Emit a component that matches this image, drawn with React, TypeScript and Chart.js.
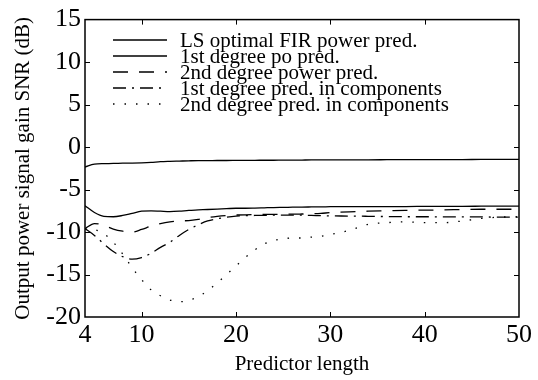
import React, { useEffect, useRef } from "react";
import { Chart, registerables } from "chart.js";

Chart.register(...registerables);

// Predictor length (x)
const xValues = [4, 5, 6, 7, 8, 9, 10, 11, 12, 13, 14, 15, 16, 17, 18, 19, 20, 21, 22, 23, 24, 25, 26, 27, 28, 29, 30, 32, 34, 36, 38, 40, 42, 44, 46, 48, 50];

// Output power signal gain SNR (dB)
const lsOptimal = [-2.35, -2.0, -1.95, -1.93, -1.9, -1.88, -1.85, -1.8, -1.72, -1.68, -1.65, -1.62, -1.6, -1.6, -1.58, -1.58, -1.57, -1.56, -1.56, -1.55, -1.55, -1.54, -1.54, -1.53, -1.52, -1.52, -1.51, -1.5, -1.5, -1.49, -1.48, -1.48, -1.47, -1.47, -1.46, -1.46, -1.46];
const firstDegreePo = [-6.9, -7.7, -8.15, -8.2, -8.05, -7.8, -7.55, -7.5, -7.55, -7.6, -7.55, -7.45, -7.4, -7.35, -7.3, -7.25, -7.2, -7.2, -7.18, -7.15, -7.12, -7.1, -7.08, -7.06, -7.05, -7.04, -7.02, -7.0, -7.0, -7.0, -7.0, -6.98, -6.97, -6.97, -6.96, -6.95, -6.95];
const secondDegreePower = [-9.6, -9.0, -9.2, -9.65, -9.9, -10.0, -9.7, -9.3, -9.0, -8.8, -8.7, -8.65, -8.5, -8.3, -8.15, -8.05, -8.0, -7.97, -7.95, -7.93, -7.92, -7.9, -7.9, -7.88, -7.85, -7.8, -7.72, -7.62, -7.55, -7.5, -7.45, -7.42, -7.4, -7.35, -7.32, -7.32, -7.32];
const firstDegreeComp = [-9.6, -10.4, -11.4, -12.3, -12.9, -13.2, -13.0, -12.5, -11.8, -11.2, -10.4, -9.7, -9.15, -8.7, -8.45, -8.25, -8.12, -8.08, -8.05, -8.03, -8.02, -8.0, -8.0, -8.02, -8.05, -8.07, -8.1, -8.12, -8.15, -8.18, -8.2, -8.2, -8.22, -8.22, -8.22, -8.25, -8.25];
const secondDegreeComp = [-9.6, -9.7, -10.2, -11.2, -12.6, -14.2, -15.6, -16.8, -17.5, -18.0, -18.2, -18.05, -17.6, -16.9, -16.0, -15.0, -14.0, -13.0, -12.1, -11.4, -11.0, -10.8, -10.7, -10.7, -10.6, -10.5, -10.3, -9.8, -9.1, -8.9, -8.8, -8.9, -8.9, -8.7, -8.4, -8.25, -8.2];

const seriesLabels = [
  "LS optimal FIR power pred.",
  "1st degree po pred.",
  "2nd degree power pred.",
  "1st degree pred. in components",
  "2nd degree pred. in components",
];

const xTickValues = [4, 10, 20, 30, 40, 50];
const yTickValues = [-20, -15, -10, -5, 0, 5, 10, 15];

const FONT = "'Liberation Serif', 'Times New Roman', serif";

export default function App() {
  const ref = useRef<HTMLCanvasElement>(null);

  useEffect(() => {
    document.body.style.margin = "0";
    const canvas = ref.current;
    if (!canvas) return;

    const dashes: number[][] = [[], [], [15, 11], [13, 6, 2, 6], [1.5, 10]];
    const series = [lsOptimal, firstDegreePo, secondDegreePower, firstDegreeComp, secondDegreeComp];

    const datasets = series.map((s, i) => ({
      label: seriesLabels[i],
      data: s.map((y, j) => ({ x: xValues[j], y })),
      borderColor: "#000",
      borderWidth: 1.3,
      borderDash: dashes[i],
      pointRadius: 0,
      cubicInterpolationMode: "monotone" as const,
      fill: false,
    }));

    const framePlugin = {
      id: "frameLegend",
      afterDraw(chart: any) {
        const { ctx, chartArea: a, scales } = chart;
        ctx.save();
        ctx.strokeStyle = "#000";
        ctx.setLineDash([]);
        ctx.lineWidth = 1.5;
        ctx.strokeRect(a.left, a.top, a.right - a.left, a.bottom - a.top);
        ctx.lineWidth = 1;
        const tl = 5;
        const seg = (x1: number, y1: number, x2: number, y2: number) => {
          ctx.beginPath();
          ctx.moveTo(x1, y1);
          ctx.lineTo(x2, y2);
          ctx.stroke();
        };
        xTickValues.forEach((v) => {
          const px = Math.round(scales.x.getPixelForValue(v)) + 0.5;
          if (px <= a.left + 2 || px >= a.right - 2) return;
          seg(px, a.bottom, px, a.bottom - tl);
          seg(px, a.top, px, a.top + tl);
        });
        yTickValues.forEach((v) => {
          const py = Math.round(scales.y.getPixelForValue(v)) + 0.5;
          if (py <= a.top + 2 || py >= a.bottom - 2) return;
          seg(a.left, py, a.left + tl, py);
          seg(a.right, py, a.right - tl, py);
        });

        // legend
        ctx.font = `21px ${FONT}`;
        ctx.fillStyle = "#000";
        ctx.textBaseline = "middle";
        ctx.textAlign = "left";
        seriesLabels.forEach((label, i) => {
          const y = 40 + i * 16;
          ctx.lineWidth = 1.3;
          ctx.setLineDash(dashes[i]);
          seg(113, y, 167, y);
          ctx.setLineDash([]);
          ctx.fillText(label, 180, y + 1);
        });
        ctx.restore();
      },
    };

    const chart = new Chart(canvas, {
      type: "line",
      data: { datasets },
      options: {
        animation: false,
        responsive: false,
        maintainAspectRatio: false,
        layout: { padding: { top: 14, right: 19, left: 0, bottom: 0 } },
        plugins: { legend: { display: false }, tooltip: { enabled: false } },
        scales: {
          x: {
            type: "linear",
            min: 4,
            max: 50,
            grid: { display: false, drawTicks: false },
            border: { display: false },
            afterBuildTicks: (scale: any) => {
              scale.ticks = xTickValues.map((v) => ({ value: v }));
            },
            afterFit: (scale: any) => {
              scale.height = 63;
            },
            ticks: {
              color: "#000",
              padding: 3,
              maxRotation: 0,
              autoSkip: false,
              font: { family: FONT, size: 26 },
              callback: (v: any) => String(v),
            },
            title: {
              display: true,
              text: "Predictor length",
              color: "#000",
              font: { family: FONT, size: 21, lineHeight: 1.2 },
              padding: { top: 0, bottom: 3 },
            },
          },
          y: {
            type: "linear",
            min: -20,
            max: 15,
            grid: { display: false, drawTicks: false },
            border: { display: false },
            afterBuildTicks: (scale: any) => {
              scale.ticks = yTickValues.map((v) => ({ value: v }));
            },
            afterFit: (scale: any) => {
              scale.width = 85;
            },
            ticks: {
              color: "#000",
              padding: 4,
              autoSkip: false,
              font: { family: FONT, size: 26 },
              callback: (v: any) => String(v),
            },
            title: {
              display: true,
              text: "Output power signal gain SNR (dB)",
              color: "#000",
              font: { family: FONT, size: 21, lineHeight: 1.2 },
              padding: { top: 11, bottom: 0 },
            },
          },
        },
      },
      plugins: [framePlugin],
    });

    return () => chart.destroy();
  }, []);

  return <canvas ref={ref} width={538} height={380} style={{ display: "block" }} />;
}
